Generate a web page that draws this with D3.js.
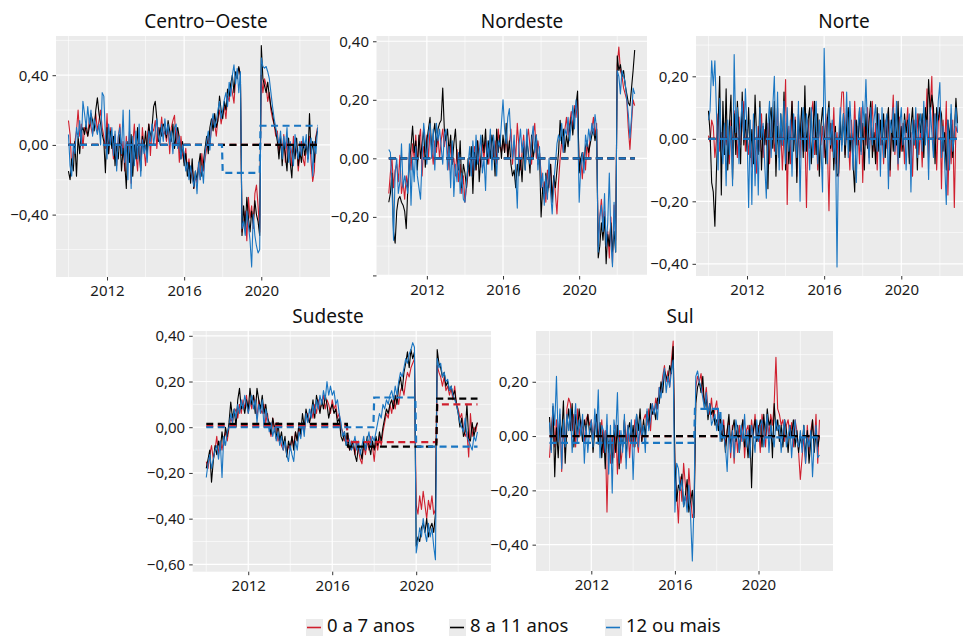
<!DOCTYPE html>
<html lang="pt-BR">
<head>
<meta charset="utf-8">
<title>Desvios por escolaridade - regiões</title>
<script src="https://d3js.org/d3.v7.min.js"></script>
<style>
    body { margin: 0; background: #fff; }
    text { font-family: "Noto Sans", sans-serif; }
</style>
</head>
<body>
<script type="text/javascript">

var startYear = 2010;
var groups = ["0 a 7 anos", "8 a 11 anos", "12 ou mais"];
var colors = ["#d01f2e", "#000000", "#1a76c2"];

// monthly series, jan/2010 - dec/2022

// Centro-Oeste
var coRed = [
 .14,.06,-.12,-.05,.02,.08,.20,.05,.12,-.02,.10,.08,
 .05,.15,.10,.06,.12,.18,.08,.14,.20,.10,.05,-.02,
 .18,-.05,.10,.02,-.08,.06,-.12,.04,.12,-.06,.02,-.15,
 .05,-.10,.08,-.22,.00,.12,-.05,-.15,.06,-.10,.10,-.02,
 -.12,.04,.12,-.06,.10,.08,.14,-.02,.10,.06,.16,.05,
 .08,.02,.12,-.05,.10,.14,.17,.00,.08,-.10,.05,-.06,
 -.10,-.02,-.15,-.08,-.20,-.12,-.25,-.18,-.22,-.10,-.20,-.05,
 -.15,-.08,-.02,.05,.00,.10,.16,.12,.05,.15,.20,.12,
 .18,.22,.15,.28,.25,.35,.30,.24,.38,.42,.44,.40,
 -.50,-.45,-.38,-.55,-.30,-.42,-.35,-.48,-.28,-.23,-.35,-.50,
 .40,.30,.38,.34,.25,.30,.20,.15,.12,.05,.08,-.05,
 .02,-.05,.06,-.10,.04,-.08,-.02,-.12,.05,-.06,.00,-.15,
 -.05,.02,-.08,-.12,.00,-.04,.05,-.10,-.21,-.15,.05,.10
];
var coBlack = [
 -.15,-.20,-.08,-.15,.02,-.18,.05,-.05,.08,.10,.06,.12,
 .05,.10,.18,.14,.08,.20,.27,.18,.12,.06,.02,-.16,
 .10,-.05,.08,-.02,.05,-.12,.00,-.08,.06,-.15,-.02,-.10,
 -.25,.02,-.10,.06,-.18,.00,-.08,.10,-.05,-.15,.05,-.02,
 .08,-.06,.12,.04,.10,.22,.25,.15,.02,.10,.05,.12,
 .10,.04,.14,.08,.02,.12,-.02,.06,.10,.04,-.08,.02,
 -.12,-.05,-.18,-.10,-.22,-.08,-.25,-.15,-.20,-.12,-.05,-.18,
 -.10,-.02,.05,-.05,.10,.15,.08,.18,.10,.14,.28,.20,
 .15,.25,.20,.32,.28,.35,.40,.30,.42,.38,.45,.40,
 -.52,-.35,-.48,-.30,-.42,-.50,-.38,-.45,-.32,-.40,-.44,-.52,
 .57,.38,.34,.30,.36,.28,.22,.18,.12,.08,.02,-.08,
 .05,-.12,.02,-.06,-.15,.04,-.10,-.19,.00,-.08,.04,-.12,
 -.04,-.10,.02,-.06,.00,-.08,.18,-.05,.02,-.10,.04,.08
];
var coBlue = [
 .06,-.12,-.18,.00,-.05,.10,.04,.14,.00,.25,.18,.10,
 .22,.12,.20,.05,.15,.10,.06,.12,.00,.30,.28,.05,
 -.08,.12,.00,.10,-.06,.08,-.15,.05,.10,-.05,.20,-.10,
 .02,-.20,.20,-.25,.05,-.12,.08,-.08,.12,-.18,.03,-.05,
 .00,-.10,.08,.02,.12,.00,.08,.15,.05,.00,.12,.02,
 .15,.06,.12,.00,.08,-.05,.10,.12,-.02,.05,-.08,.00,
 -.05,-.15,-.10,-.20,-.12,-.18,-.24,-.15,-.28,-.10,-.20,-.12,
 -.22,-.05,.02,.08,-.03,.12,.18,.10,.14,.20,.25,.15,
 .20,.26,.30,.22,.36,.28,.40,.46,.35,.44,.30,.42,
 -.48,-.44,-.52,-.38,-.46,-.55,-.70,-.40,-.52,-.58,-.62,-.60,
 .50,.45,.44,.45,.42,.38,.30,.22,.15,.10,.05,.00,
 .08,-.08,.05,-.02,.10,-.10,.02,-.05,-.12,.06,-.03,-.08,
 .02,-.06,.05,-.02,.06,-.10,.00,.04,-.18,.02,-.05,.10
];

// Nordeste
var neRed = [
 -.12,-.05,.00,-.10,-.04,-.02,-.08,.01,-.12,-.08,-.14,-.06,
 -.10,.02,-.04,.05,.00,.08,-.02,.06,.10,-.06,.04,.02,
 .08,.00,.10,.04,-.02,.06,.02,.08,.00,.06,.10,.04,
 .08,.02,-.04,.05,-.02,.00,-.06,.03,-.08,-.02,-.12,-.06,
 -.15,-.10,-.05,-.02,.02,-.06,.04,-.04,.06,.00,-.03,.05,
 .00,.06,.02,-.02,.08,.04,.00,.06,-.02,.10,.04,.02,
 .06,.02,.08,.00,.05,.10,-.02,.06,.00,.12,.04,-.04,
 .02,.08,.00,.06,.10,.04,-.02,.08,.12,.00,.06,.02,
 -.05,-.12,-.08,-.15,-.04,-.10,-.02,-.14,-.06,-.12,-.19,-.08,
 .00,.06,.02,.10,.14,.08,.12,.16,.10,.18,.14,.20,
 -.04,.00,-.07,.02,-.04,.06,.00,.08,.10,.14,.08,.12,
 -.30,-.20,-.14,-.22,-.18,-.30,-.25,-.34,-.20,-.36,-.16,-.28,
 .32,.38,.30,.28,.24,.22,.20,.10,.03,.12,.20,.18
];
var neBlack = [
 -.15,-.12,-.05,-.25,-.29,-.18,-.14,-.13,-.15,-.16,-.18,-.24,
 -.10,-.02,.04,.11,.02,.06,-.04,.08,.00,.05,.10,-.03,
 .06,.10,.14,.02,.08,.12,.04,.10,.12,.13,.24,.10,
 .06,.10,.02,.08,-.02,.05,.10,.00,-.04,.06,-.10,-.02,
 -.05,-.10,.00,-.06,.04,-.12,.02,-.04,.06,-.08,.00,.08,
 .02,.10,-.02,.06,.00,.08,.04,-.06,.10,.02,.08,.00,
 .08,.02,.12,.00,.06,-.02,-.06,-.04,-.10,-.02,-.06,.00,
 -.08,.04,-.04,.06,.02,-.05,.08,.00,.04,.08,-.02,.02,
 -.20,-.10,-.14,-.05,-.12,-.08,-.02,-.15,-.06,-.10,-.04,.02,
 .13,.05,.10,.02,.08,.04,.10,.14,.08,.16,.18,.23,
 -.05,.00,.02,-.02,.04,.06,.02,.05,.08,.10,.06,.10,
 -.34,-.30,-.22,-.28,-.20,-.36,-.26,-.30,-.22,-.32,-.25,-.32,
 .35,.30,.32,.28,.30,.25,.22,.19,.18,.24,.30,.37
];
var neBlue = [
 .03,.02,-.10,-.28,-.05,.00,-.12,-.08,.05,-.10,-.06,-.09,
 -.12,.05,-.16,.00,-.08,.04,-.06,-.10,-.14,.00,.12,.06,
 -.02,.08,.12,.00,.10,-.04,.12,.06,.10,.04,-.02,.08,
 .10,-.04,.04,-.10,.06,-.13,-.02,-.08,.02,-.12,-.05,-.14,
 -.15,-.08,-.02,.04,-.06,.06,-.04,.08,-.02,.02,.08,-.05,
 .00,-.11,.06,.00,.10,-.04,.08,.02,-.06,.06,.04,.12,
 .20,.10,.05,.14,.17,.06,.00,.08,-.05,-.17,.04,.10,
 .02,.06,-.04,.10,.00,-.02,.06,.11,.02,.08,-.04,.04,
 -.10,-.05,-.16,-.06,-.14,.00,-.12,-.19,-.08,-.02,.05,.08,
 .06,.12,.02,.10,.08,.14,.06,.12,.18,.10,.20,.15,
 -.15,-.03,.02,-.05,.08,.04,.10,.06,.12,.08,.15,.10,
 -.32,-.20,-.16,-.25,-.12,-.30,-.22,-.05,-.28,-.37,-.15,-.32,
 .30,.28,.22,.30,.28,.26,.20,.15,.07,.14,.24,.22
];

// Norte
var noRed = [
 .01,-.01,.06,.04,-.06,.00,.08,-.04,.02,-.05,.05,-.02,
 .04,-.08,.06,-.03,.09,.02,-.06,.07,-.02,.05,.12,-.04,
 .03,-.05,.02,-.09,.06,-.02,-.11,.04,-.04,.08,-.06,.03,
 -.02,.05,-.08,.02,.06,-.04,.00,.10,-.06,.03,-.10,.02,
 .19,-.21,.04,-.08,.12,-.02,.07,-.12,.03,-.06,.09,-.04,
 .02,-.22,.06,-.03,.08,.12,-.05,.02,-.10,.06,-.02,.04,
 -.06,.08,-.02,-.23,.05,-.04,.10,-.08,.02,-.12,.06,.15,
 .15,-.05,.08,.00,-.10,.06,-.04,.12,-.02,.04,-.08,.10,
 -.14,.06,-.02,.10,-.06,.03,.12,-.04,.05,-.10,.08,-.02,
 .02,-.08,.06,-.03,.09,-.12,.04,.14,-.05,.02,-.10,.07,
 -.04,.05,-.08,.03,.10,-.06,.02,-.12,.06,-.03,.08,-.05,
 .04,-.09,.06,.02,.16,-.06,.10,.20,-.04,.08,-.10,.05,
 .10,-.16,.06,-.04,.12,-.18,.02,-.08,.06,-.22,.04,.02
];
var noBlack = [
 .09,.02,-.14,-.17,-.28,-.10,.05,.20,-.18,.12,-.05,.16,
 -.10,.04,.14,-.13,.08,-.05,.12,.02,-.08,.15,-.02,.06,
 -.04,.10,-.06,.03,-.08,.14,.00,-.05,.12,-.10,.04,-.02,
 .08,-.16,.06,.10,-.03,.12,-.12,.04,-.06,.08,-.02,.15,
 -.10,.05,-.08,.02,.12,-.04,.06,-.14,.08,.00,.10,-.06,
 .17,-.04,.06,.10,-.08,.02,.12,-.05,.08,-.12,.04,.10,
 .02,-.08,.06,.12,-.03,.05,-.10,.04,-.12,-.11,.06,-.02,
 .08,-.06,.04,.10,-.04,.02,-.08,-.17,.06,-.02,.09,-.04,
 .05,-.10,.08,-.03,.06,.12,-.06,.02,-.08,.10,-.04,.06,
 -.02,.08,-.06,.04,.10,-.10,.06,-.04,.08,-.02,.12,-.06,
 .04,-.04,.08,.02,.06,-.08,.04,.10,-.02,.06,-.10,.08,
 .02,.08,-.06,.10,.04,.19,.08,.14,.10,-.08,.10,.06,
 .10,.08,-.04,.02,-.10,.06,.00,.08,-.06,.02,.13,.05
];
var noBlue = [
 .06,.09,.25,.17,.25,.08,-.10,.13,.00,-.08,.05,-.15,
 .06,-.05,.04,-.15,.27,.02,.10,-.08,.05,.12,.00,.16,
 .02,-.22,.06,-.21,.08,-.15,.04,-.18,.10,.00,.05,-.08,
 -.19,.04,.12,-.06,.10,.20,-.05,.15,-.10,.08,-.02,.12,
 -.08,.10,-.04,.06,-.12,.08,.00,-.06,.12,-.20,.05,.10,
 -.04,.08,.02,-.10,.10,-.06,.04,.12,-.08,.06,-.02,-.17,
 .29,.05,-.08,.10,-.02,.06,-.06,.02,-.41,.00,.10,-.04,
 .08,-.02,.15,-.06,.12,.02,-.10,.06,-.14,.04,.10,-.05,
 .12,.04,.19,.02,-.08,.10,-.02,.06,.11,-.04,.08,-.12,
 .10,-.06,.04,.08,-.16,.06,.02,.10,-.04,.12,-.08,.04,
 .10,-.02,.06,-.10,.04,.08,-.17,.06,-.02,.10,-.06,.04,
 .08,-.04,.12,-.02,.06,-.13,.10,.02,-.06,.08,.00,.12,
 .18,-.06,.04,-.08,-.21,.06,-.10,.11,-.04,.02,.10,.02
];

// Sudeste
var seRed = [
 -.15,-.18,-.12,-.08,-.14,-.10,-.04,-.12,-.06,-.10,-.05,-.02,
 -.06,.00,.04,.02,.06,.08,.04,.10,.06,.12,.08,.14,
 .06,.12,.08,.14,.10,.04,.12,.08,.06,.10,.02,.06,
 .00,-.04,.04,-.02,.02,-.06,-.04,-.08,-.10,-.06,-.12,-.08,
 -.10,-.04,-.08,-.02,-.06,.00,-.04,.02,-.02,.04,.06,.02,
 .08,.04,.10,.06,.12,.08,.10,.14,.08,.12,.10,.06,
 .12,.08,.10,.04,.06,.00,-.02,-.06,-.04,-.08,-.10,-.06,
 -.08,-.12,-.06,-.10,-.14,-.16,-.08,-.12,-.06,-.10,-.04,-.08,
 -.15,-.06,-.10,-.04,-.08,-.02,.02,.06,.04,.10,.06,.12,
 .08,.14,.10,.16,.18,.14,.20,.24,.22,.26,.28,.30,
 -.34,-.38,-.30,-.36,-.28,-.34,-.40,-.32,-.36,-.30,-.38,-.36,
 .27,.24,.22,.18,.22,.16,.18,.14,.17,.12,.18,.10,
 .08,.04,.06,.00,-.04,-.02,-.13,.06,-.04,.00,-.02,.02
];
var seBlack = [
 -.18,-.14,-.10,-.24,-.15,-.08,-.12,-.06,-.10,-.02,-.08,.00,
 -.04,.02,.11,.04,.08,.00,.12,.17,.08,.10,.06,.12,
 .08,.17,.10,.14,.06,.17,.12,.08,.14,.06,.10,.04,
 .02,-.03,.04,.00,-.05,.02,-.06,-.02,-.08,-.04,-.13,-.06,
 -.09,-.04,-.10,-.02,-.06,.02,-.03,.06,.00,.08,.04,.02,
 .06,.12,.04,.14,.10,.06,.12,.08,.14,.10,.04,.08,
 .10,.06,.08,.02,.04,-.04,-.06,-.02,-.08,-.05,-.10,-.08,
 -.06,-.12,-.15,-.08,-.10,-.14,-.06,-.10,-.04,-.08,-.12,-.06,
 -.10,-.04,-.08,-.02,-.06,.00,.04,.08,.06,.10,.12,.08,
 .14,.10,.18,.22,.16,.24,.28,.33,.26,.34,.30,.33,
 -.52,-.48,-.50,-.44,-.42,-.46,-.40,-.48,-.44,-.42,-.46,-.38,
 .34,.28,.26,.22,.24,.18,.20,.16,.18,.14,.16,.10,
 .06,.00,.04,-.04,-.02,.10,-.05,-.06,.02,-.04,.00,.02
];
var seBlue = [
 -.22,-.16,-.12,-.18,-.14,-.10,-.08,-.14,-.06,-.22,-.04,-.08,
 -.02,.00,.06,.02,.08,.04,.10,.06,.12,.08,.14,.10,
 .06,.10,.14,.08,.12,.02,.10,.06,.12,.00,.08,.04,
 -.02,.02,-.04,.00,-.06,-.02,-.08,-.04,-.10,-.06,-.12,-.15,
 -.08,-.12,-.15,-.06,-.10,-.02,-.05,.02,-.04,.06,.02,.08,
 .04,.10,.06,.12,.08,.14,.10,.16,.12,.20,.14,.18,
 .14,.16,.10,.12,.06,.02,-.04,-.02,-.08,-.04,-.06,-.10,
 -.08,-.04,-.10,-.06,-.12,-.08,-.04,-.10,-.06,-.02,-.08,-.04,
 -.06,-.02,.02,.06,.04,.10,.08,.12,.10,.14,.16,.12,
 .18,.14,.20,.24,.22,.26,.30,.28,.32,.34,.37,.35,
 -.55,-.50,-.44,-.48,-.40,-.46,-.50,-.42,-.48,-.44,-.52,-.58,
 .30,.26,.28,.22,.24,.20,.21,.16,.18,.14,.12,.10,
 .06,.02,.00,-.02,.04,-.04,-.06,-.08,-.10,-.04,-.06,-.02
];

// Sul
var suRed = [
 -.08,.02,.10,-.04,.06,-.02,.08,-.13,.04,-.06,.10,.14,
 .12,.02,.08,-.04,.10,.00,.06,.03,-.02,.06,.08,.04,
 .06,.00,.04,.08,.02,-.04,.06,-.06,.02,-.28,-.02,-.10,
 .00,-.08,.04,-.14,.02,-.10,-.04,.06,-.02,.04,-.08,.02,
 -.04,.06,.00,-.06,.04,-.02,.06,.08,.04,.10,.02,.12,
 .08,.14,.10,.18,.16,.22,.26,.20,.24,.18,.28,.35,
 -.12,-.20,-.32,-.15,-.24,-.10,-.18,-.26,-.12,-.22,-.30,-.28,
 .18,.22,.20,.23,.16,.12,.18,.10,.08,.14,.06,.10,
 .13,.04,.08,.00,.06,-.04,.02,.06,-.08,.04,-.10,.02,
 -.06,.04,-.02,.06,-.08,.02,.04,-.04,.06,.00,.08,-.02,
 .04,-.06,.08,.02,-.04,.06,.00,.08,.04,.12,.29,.10,
 .08,.04,.06,-.02,.04,.06,.00,.05,-.04,.06,.02,-.06,
 -.16,-.08,.00,-.10,.04,-.06,.02,.06,-.04,.08,-.10,.06
];
var suBlack = [
 .07,-.05,.11,-.15,.03,-.08,.06,.00,.13,-.10,.04,.10,
 .02,.12,-.04,.08,.00,.10,.04,-.02,.06,.02,.08,.01,
 .04,-.06,.02,.08,-.03,.05,-.08,.02,-.12,.04,-.06,.00,
 -.10,.02,-.06,.04,-.12,.00,-.04,.06,-.08,.02,.05,-.02,
 .04,-.04,.08,.02,.10,-.02,.06,.00,.09,.04,.12,.08,
 .10,.06,.14,.12,.20,.16,.24,.22,.20,.26,.23,.33,
 -.10,-.24,-.18,-.20,-.14,-.26,-.22,-.16,-.28,-.24,-.20,-.30,
 .12,.18,.20,.16,.22,.10,.14,.06,.12,.08,.10,.04,
 .06,.02,.08,-.02,.04,-.06,.02,.08,-.04,.02,.06,-.02,
 .04,-.06,.02,.06,-.04,.00,-.08,.04,-.19,.02,.06,-.02,
 .02,.06,-.04,.08,.00,.10,.04,.06,-.08,.12,.02,.06,
 -.02,.04,-.04,.06,.02,-.06,.04,.00,.06,-.04,.02,-.06,
 .00,-.04,.04,-.08,.02,-.10,-.02,.06,-.06,.02,-.04,.00
];
var suBlue = [
 .05,-.06,.12,.04,.22,-.02,.10,-.12,.06,-.04,.08,.02,
 .10,-.06,.04,.12,-.02,.06,.00,.08,-.10,.04,-.06,.02,
 .06,-.04,.10,.00,.17,-.08,.04,.02,-.06,.08,-.14,.04,
 -.21,.06,.00,.16,-.10,.02,-.06,.08,-.12,.04,-.02,.06,
 -.16,.02,.08,-.04,.06,.00,.04,-.06,.10,.02,.06,.12,
 .08,.12,.06,.18,.14,.20,.25,.16,.22,.18,.24,.28,
 -.28,-.10,-.12,-.20,-.16,-.26,-.22,-.28,-.18,-.30,-.46,-.24,
 .22,.24,.20,.18,.14,.10,.16,.08,.12,.04,.06,.08,
 .02,.10,-.02,.06,.00,-.04,-.13,.04,-.06,.02,-.08,.06,
 .02,-.06,.04,-.02,.08,-.04,.02,-.08,.04,.00,-.06,.06,
 -.02,.04,.06,-.04,.02,.08,-.06,.04,.00,-.04,.06,.02,
 .04,-.06,.02,.06,-.04,.00,.04,-.08,.02,.06,-.02,-.04,
 .02,-.06,.04,-.10,.00,-.04,.02,-.15,-.02,.04,-.08,-.07
];

// fitted levels (dashed), [year, value]
var flat = [[2010, 0], [2022.92, 0]];
var coFitBlue = [[2010, 0], [2017.96, 0], [2018, -.16], [2019.92, -.16], [2019.96, .11], [2022.92, .11]];
var seFitRed = [[2010, .005], [2016.7, .005], [2016.75, -.065], [2020.96, -.065], [2021, .10], [2022.92, .10]];
var seFitBlack = [[2010, .015], [2016.7, .015], [2016.75, -.085], [2020.96, -.085], [2021, .125], [2022.92, .125]];
var seFitBlue = [[2010, 0], [2017.96, 0], [2018, .13], [2019.96, .13], [2020, -.085], [2022.92, -.085]];
var suFitBlue = [[2010, -.025], [2016.92, -.025], [2016.96, .10], [2018.17, .10], [2018.21, -.005], [2022.92, -.005]];

var yearTicks = [2012, 2016, 2020];
var yearMinor = [2010, 2014, 2018, 2022];

var panels = [
    {title: "Centro\u2212Oeste", series: [coRed, coBlack, coBlue], fits: [flat, flat, coFitBlue],
     left: 56, right: 330, top: 36, bottom: 277, ymin: -0.758, ymax: 0.625,
     breaks: [-0.4, 0, 0.4], minor: [-0.6, -0.2, 0.2, 0.6], tx: 206, ty: 28},
    {title: "Nordeste", series: [neRed, neBlack, neBlue], fits: [flat, flat, flat],
     left: 376.5, right: 647, top: 36, bottom: 276, ymin: -0.402, ymax: 0.418,
     breaks: [-0.4, -0.2, 0, 0.2, 0.4], minor: [-0.3, -0.1, 0.1, 0.3], hide: [-0.4], tx: 522, ty: 28},
    {title: "Norte", series: [noRed, noBlack, noBlue], fits: [flat, flat, flat],
     left: 696, right: 970, top: 36, bottom: 276, ymin: -0.439, ymax: 0.329,
     breaks: [-0.4, -0.2, 0, 0.2], minor: [-0.3, -0.1, 0.1, 0.3], tx: 844, ty: 28},
    {title: "Sudeste", series: [seRed, seBlack, seBlue], fits: [seFitRed, seFitBlack, seFitBlue],
     left: 192.7, right: 491, top: 331, bottom: 571.7, ymin: -0.632, ymax: 0.421,
     breaks: [-0.6, -0.4, -0.2, 0, 0.2, 0.4], minor: [-0.5, -0.3, -0.1, 0.1, 0.3], tx: 328, ty: 323},
    {title: "Sul", series: [suRed, suBlack, suBlue], fits: [flat, flat, suFitBlue],
     left: 536, right: 833, top: 331, bottom: 571, ymin: -0.497, ymax: 0.387,
     breaks: [-0.4, -0.2, 0, 0.2], minor: [-0.3, -0.1, 0.1, 0.3], tx: 680, ty: 323}
];

var width = 963, height = 637;
var xDomain = [2009.354, 2023.563];

var br = d3.formatLocale({decimal: ",", thousands: ".", grouping: [3], currency: ["R$", ""], minus: "\u2212"});
var fmt = br.format(".2f");

var svg = d3.select("body")
    .append("svg")
    .attr("width", width)
    .attr("height", height);

panels.forEach(function(p) {

    var x = d3.scaleLinear().domain(xDomain).range([p.left, p.right]);
    var y = d3.scaleLinear().domain([p.ymin, p.ymax]).range([p.bottom, p.top]);

    var g = svg.append("g");

    g.append("rect")
        .attr("x", p.left)
        .attr("y", p.top)
        .attr("width", p.right - p.left)
        .attr("height", p.bottom - p.top)
        .attr("fill", "#ebebeb");

    // grid
    g.selectAll(".hminor").data(p.minor).enter().append("line")
        .attr("x1", p.left).attr("x2", p.right)
        .attr("y1", d => y(d)).attr("y2", d => y(d))
        .attr("stroke", "#fff").attr("stroke-width", 0.6);
    g.selectAll(".vminor").data(yearMinor).enter().append("line")
        .attr("x1", d => x(d)).attr("x2", d => x(d))
        .attr("y1", p.top).attr("y2", p.bottom)
        .attr("stroke", "#fff").attr("stroke-width", 0.6);
    g.selectAll(".hmajor").data(p.breaks).enter().append("line")
        .attr("x1", p.left).attr("x2", p.right)
        .attr("y1", d => y(d)).attr("y2", d => y(d))
        .attr("stroke", "#fff").attr("stroke-width", 1.2);
    g.selectAll(".vmajor").data(yearTicks).enter().append("line")
        .attr("x1", d => x(d)).attr("x2", d => x(d))
        .attr("y1", p.top).attr("y2", p.bottom)
        .attr("stroke", "#fff").attr("stroke-width", 1.2);

    var line = d3.line()
        .x((d, i) => x(startYear + i / 12))
        .y(d => y(d));

    p.series.forEach(function(s, k) {
        g.append("path")
            .datum(s)
            .attr("d", line)
            .attr("fill", "none")
            .attr("stroke", colors[k])
            .attr("stroke-width", 1.1)
            .attr("stroke-linejoin", "round");
    });

    var fitLine = d3.line()
        .x(d => x(d[0]))
        .y(d => y(d[1]));

    p.fits.forEach(function(f, k) {
        g.append("path")
            .datum(f)
            .attr("d", fitLine)
            .attr("fill", "none")
            .attr("stroke", colors[k])
            .attr("stroke-width", 2.2)
            .attr("stroke-dasharray", "7,4.5");
    });

    // axes
    var hide = p.hide || [];
    var yAxis = g.append("g")
        .attr("transform", `translate(${p.left},0)`)
        .call(d3.axisLeft(y)
            .tickValues(p.breaks)
            .tickSize(3.5)
            .tickPadding(4)
            .tickFormat(d => hide.indexOf(d) >= 0 ? "" : fmt(d)));

    var xAxis = g.append("g")
        .attr("transform", `translate(0,${p.bottom})`)
        .call(d3.axisBottom(x)
            .tickValues(yearTicks)
            .tickSize(3.5)
            .tickPadding(5)
            .tickFormat(d3.format("d")));

    [yAxis, xAxis].forEach(function(a) {
        a.select(".domain").remove();
        a.selectAll(".tick line").attr("stroke", "#333");
        a.selectAll(".tick text")
            .attr("fill", "#1a1a1a")
            .style("font-size", "15px")
            .style("font-family", "'Noto Sans', sans-serif");
    });

    g.append("text")
        .attr("x", p.tx)
        .attr("y", p.ty)
        .attr("text-anchor", "middle")
        .style("font-size", "19px")
        .attr("fill", "#111")
        .text(p.title);
});

// legend
var legendX = [306, 449, 605];
var legend = svg.append("g");

groups.forEach(function(name, k) {
    var lx = legendX[k];
    legend.append("rect")
        .attr("x", lx).attr("y", 619)
        .attr("width", 17).attr("height", 17)
        .attr("fill", "#ebebeb");
    legend.append("line")
        .attr("x1", lx + 1).attr("x2", lx + 15)
        .attr("y1", 627.5).attr("y2", 627.5)
        .attr("stroke", colors[k])
        .attr("stroke-width", 1.6);
    legend.append("text")
        .attr("x", lx + 21)
        .attr("y", 632)
        .style("font-size", "18.5px")
        .attr("fill", "#111")
        .text(name);
});

</script>
</body>
</html>
